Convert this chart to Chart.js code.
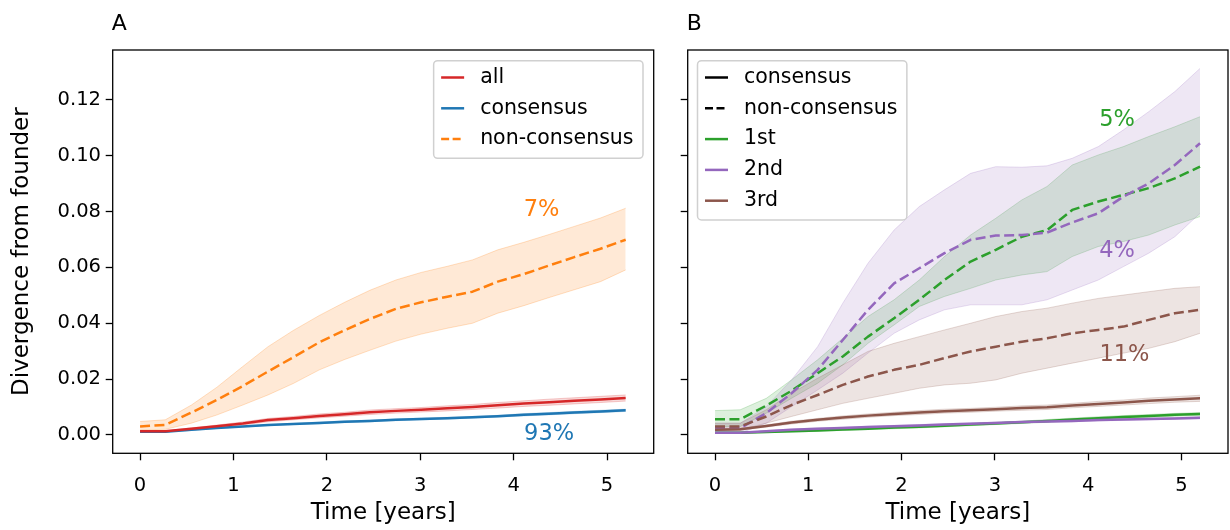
<!DOCTYPE html>
<html><head><meta charset="utf-8">
<script src="https://cdn.jsdelivr.net/npm/chart.js@4.4.1/dist/chart.umd.min.js"></script>
<style>
html,body{margin:0;padding:0;background:#fff;width:1230px;height:530px;overflow:hidden}
canvas{position:absolute;top:0}
#cA{left:0}
#cB{left:665px}
</style></head><body>
<canvas id="cA" width="665" height="530"></canvas>
<canvas id="cB" width="565" height="530"></canvas>
<script>
// ---------- data ----------
const time = [0, 0.27, 0.55, 0.82, 1.10, 1.37, 1.64, 1.92, 2.19, 2.46, 2.74, 3.01, 3.29, 3.56, 3.83, 4.11, 4.38, 4.65, 4.93, 5.20];
const xTicks = [0, 1, 2, 3, 4, 5];
const xTickLabels = ['0', '1', '2', '3', '4', '5'];
const yTicks = [0, 0.02, 0.04, 0.06, 0.08, 0.10, 0.12];
const yTickLabels = ['0.00', '0.02', '0.04', '0.06', '0.08', '0.10', '0.12'];

// Panel A
const allMean  = [0.0013,0.0013,0.0022,0.0031,0.0041,0.0053,0.0060,0.0068,0.0074,0.0081,0.0086,0.0090,0.0095,0.0100,0.0106,0.0112,0.0117,0.0122,0.0127,0.0132];
const allLow   = [0.0011,0.0011,0.0019,0.0027,0.0036,0.0047,0.0054,0.0061,0.0067,0.0073,0.0078,0.0082,0.0086,0.0091,0.0096,0.0102,0.0106,0.0111,0.0116,0.0121];
const allHigh  = [0.0015,0.0015,0.0025,0.0035,0.0046,0.0059,0.0066,0.0075,0.0081,0.0089,0.0094,0.0098,0.0104,0.0109,0.0116,0.0122,0.0128,0.0133,0.0138,0.0143];
const consMean = [0.0011,0.0011,0.0018,0.0025,0.0030,0.0035,0.0039,0.0043,0.0047,0.0050,0.0054,0.0057,0.0060,0.0063,0.0067,0.0072,0.0076,0.0080,0.0084,0.0088];
const consLow  = [0.0010,0.0010,0.0016,0.0023,0.0028,0.0033,0.0037,0.0040,0.0044,0.0047,0.0051,0.0054,0.0057,0.0060,0.0064,0.0068,0.0072,0.0076,0.0080,0.0084];
const consHigh = [0.0012,0.0012,0.0020,0.0027,0.0032,0.0037,0.0041,0.0046,0.0050,0.0053,0.0057,0.0060,0.0063,0.0066,0.0070,0.0076,0.0080,0.0084,0.0088,0.0092];
const nonMean  = [0.0030,0.0036,0.0080,0.0125,0.0175,0.0227,0.0278,0.0332,0.0375,0.0415,0.0452,0.0475,0.0495,0.0513,0.0549,0.0576,0.0607,0.0637,0.0667,0.0699];
const nonHigh  = [0.0048,0.0054,0.0107,0.0170,0.0245,0.0316,0.0374,0.0428,0.0475,0.0518,0.0555,0.0582,0.0604,0.0627,0.0663,0.0690,0.0718,0.0747,0.0777,0.0812];
const nonLow   = [0.0018,0.0020,0.0042,0.0071,0.0107,0.0143,0.0184,0.0233,0.0270,0.0303,0.0336,0.0361,0.0382,0.0400,0.0436,0.0463,0.0492,0.0520,0.0549,0.0591];

// Panel B : consensus (solid)
const g1Cons     = [0.0008,0.0008,0.0010,0.0013,0.0016,0.0019,0.0022,0.0026,0.0029,0.0033,0.0037,0.0041,0.0045,0.0050,0.0055,0.0060,0.0064,0.0068,0.0072,0.0075];
const g1ConsLow  = [0.0006,0.0006,0.0008,0.0010,0.0013,0.0016,0.0019,0.0022,0.0025,0.0029,0.0033,0.0037,0.0041,0.0045,0.0050,0.0055,0.0059,0.0063,0.0067,0.0070];
const g1ConsHigh = [0.0010,0.0010,0.0012,0.0016,0.0019,0.0022,0.0025,0.0030,0.0033,0.0037,0.0041,0.0045,0.0049,0.0055,0.0060,0.0065,0.0069,0.0073,0.0077,0.0080];
const g2Cons     = [0.0008,0.0008,0.0013,0.0018,0.0022,0.0025,0.0028,0.0031,0.0034,0.0037,0.0040,0.0043,0.0046,0.0048,0.0050,0.0053,0.0055,0.0057,0.0059,0.0061];
const g2ConsLow  = [0.0006,0.0006,0.0010,0.0015,0.0019,0.0022,0.0025,0.0028,0.0031,0.0034,0.0037,0.0040,0.0043,0.0045,0.0047,0.0050,0.0052,0.0054,0.0056,0.0057];
const g2ConsHigh = [0.0010,0.0010,0.0016,0.0021,0.0025,0.0028,0.0031,0.0034,0.0037,0.0040,0.0043,0.0046,0.0049,0.0051,0.0053,0.0056,0.0058,0.0060,0.0062,0.0065];
const g3Cons     = [0.0018,0.0020,0.0032,0.0044,0.0054,0.0062,0.0069,0.0075,0.0080,0.0085,0.0088,0.0092,0.0096,0.0099,0.0105,0.0111,0.0116,0.0122,0.0127,0.0131];
const g3ConsLow  = [0.0015,0.0017,0.0028,0.0039,0.0049,0.0056,0.0063,0.0069,0.0073,0.0078,0.0081,0.0085,0.0088,0.0091,0.0097,0.0102,0.0107,0.0112,0.0117,0.0120];
const g3ConsHigh = [0.0021,0.0023,0.0036,0.0049,0.0059,0.0068,0.0075,0.0081,0.0087,0.0092,0.0095,0.0099,0.0104,0.0107,0.0113,0.0120,0.0125,0.0132,0.0137,0.0142];
// Panel B : non-consensus (dashed)
const g1Non     = [0.0056,0.0056,0.0105,0.0158,0.0221,0.0281,0.0352,0.0418,0.0484,0.0555,0.0621,0.0663,0.0710,0.0734,0.0806,0.0836,0.0860,0.0884,0.0919,0.0961];
const g1NonHigh = [0.0087,0.0090,0.0131,0.0197,0.0269,0.0346,0.0424,0.0484,0.0555,0.0639,0.0716,0.0776,0.0842,0.0890,0.0967,0.1003,0.1033,0.1069,0.1104,0.1140];
const g1NonLow  = [0.0030,0.0030,0.0078,0.0131,0.0185,0.0251,0.0328,0.0394,0.0460,0.0496,0.0525,0.0555,0.0573,0.0585,0.0639,0.0675,0.0693,0.0716,0.0752,0.0782];
const g2Non     = [0.0024,0.0024,0.0078,0.0149,0.0233,0.0340,0.0448,0.0543,0.0597,0.0651,0.0699,0.0714,0.0716,0.0725,0.0761,0.0794,0.0854,0.0901,0.0967,0.1045];
const g2NonHigh = [0.0042,0.0042,0.0101,0.0197,0.0316,0.0472,0.0615,0.0734,0.0818,0.0878,0.0937,0.0961,0.0959,0.0964,0.0991,0.1033,0.1093,0.1158,0.1230,0.1313];
const g2NonLow  = [0.0006,0.0006,0.0042,0.0101,0.0161,0.0221,0.0293,0.0364,0.0412,0.0448,0.0466,0.0466,0.0466,0.0484,0.0519,0.0555,0.0603,0.0651,0.0710,0.0794];
const g3Non     = [0.0030,0.0030,0.0066,0.0107,0.0143,0.0179,0.0209,0.0233,0.0251,0.0275,0.0299,0.0316,0.0334,0.0346,0.0364,0.0376,0.0388,0.0412,0.0436,0.0448];
const g3NonHigh = [0.0042,0.0042,0.0090,0.0149,0.0203,0.0251,0.0299,0.0328,0.0352,0.0376,0.0400,0.0424,0.0442,0.0454,0.0472,0.0489,0.0501,0.0513,0.0525,0.0531];
const g3NonLow  = [0.0018,0.0018,0.0042,0.0066,0.0090,0.0113,0.0131,0.0149,0.0167,0.0179,0.0185,0.0197,0.0221,0.0239,0.0257,0.0275,0.0293,0.0310,0.0334,0.0364];

// annotations
const notesA = ['7%', '93%'];
const notesAx = [4.30, 4.38];
const notesAy = [0.0806, 0.0002];
const notesB = ['5%', '4%', '11%'];
const notesBx = [4.31, 4.31, 4.39];
const notesBy = [0.1128, 0.0657, 0.0287];

const legendA = ['all', 'consensus', 'non-consensus'];
const legendB = ['consensus', 'non-consensus', '1st', '2nd', '3rd'];

// ---------- styling ----------
const FONT = "'DejaVu Sans', 'Noto Sans', sans-serif";
const C = {red:'#d62728', blue:'#1f77b4', orange:'#ff7f0e', green:'#2ca02c', purple:'#9467bd', brown:'#8c564b', black:'#000000'};
const DASH = [10, 4.4];
const XMIN = -0.293, XMAX = 5.50, YMIN = -0.0066, YMAX = 0.1379;

function rgba(hex, a){
  const n = parseInt(hex.slice(1), 16);
  return `rgba(${(n>>16)&255},${(n>>8)&255},${n&255},${a})`;
}
function pts(arr){ return time.map((t, i) => ({x: t, y: arr[i]})); }
function lineDs(arr, color, dashed){
  return {data: pts(arr), borderColor: color, borderWidth: 2.5, borderDash: dashed ? DASH : [],
          pointRadius: 0, fill: false, tension: 0, borderCapStyle: 'butt', borderJoinStyle: 'round'};
}
function addBand(list, low, high, color, alpha){
  const lowIdx = list.length;
  list.push({data: pts(low), borderColor: rgba(color, alpha + 0.06), borderWidth: 1, pointRadius: 0, fill: false, tension: 0});
  list.push({data: pts(high), borderColor: rgba(color, alpha + 0.06), borderWidth: 1, pointRadius: 0, tension: 0,
             backgroundColor: rgba(color, alpha), fill: {target: lowIdx, above: rgba(color, alpha), below: rgba(color, alpha)}});
}

const decor = {
  id: 'decor',
  afterDraw(chart, args, o){
    const ctx = chart.ctx, a = chart.chartArea, sx = chart.scales.x, sy = chart.scales.y;
    ctx.save();
    // frame
    ctx.strokeStyle = '#000'; ctx.lineWidth = 1.3;
    ctx.strokeRect(a.left, a.top, a.right - a.left, a.bottom - a.top);
    // panel letter
    ctx.fillStyle = '#000'; ctx.font = `22px ${FONT}`;
    ctx.textAlign = 'left'; ctx.textBaseline = 'alphabetic';
    ctx.fillText(o.letter, a.left - 1, 30);
    // annotations
    ctx.font = `22.5px ${FONT}`; ctx.textAlign = 'center'; ctx.textBaseline = 'middle';
    o.notes.forEach((t, i) => {
      ctx.fillStyle = o.noteColors[i];
      ctx.fillText(t, sx.getPixelForValue(o.noteX[i]), sy.getPixelForValue(o.noteY[i]));
    });
    // legend
    ctx.font = `20.5px ${FONT}`;
    let maxW = 0;
    o.legend.forEach(t => { maxW = Math.max(maxW, ctx.measureText(t).width); });
    const w = 46.5 + maxW + 9.5;
    const rowH = 30.8;
    const h = 17.5 * 2 + rowH * (o.legend.length - 1) + 1;
    const left = o.legendSide === 'right' ? a.right - 10.7 - w : a.left + 9.8;
    const top = a.top + 10.7;
    ctx.beginPath();
    ctx.roundRect(left, top, w, h, 4);
    ctx.fillStyle = 'rgba(255,255,255,0.85)'; ctx.fill();
    ctx.strokeStyle = '#d0d0d0'; ctx.lineWidth = 1.5; ctx.stroke();
    ctx.textAlign = 'left'; ctx.textBaseline = 'middle';
    o.legend.forEach((t, i) => {
      const y = top + 16.8 + i * rowH;
      ctx.beginPath();
      ctx.setLineDash(o.legendDash[i] ? [8, 3.5] : []);
      ctx.strokeStyle = o.legendColors[i]; ctx.lineWidth = 2.5; ctx.lineCap = 'butt';
      ctx.moveTo(left + 7.5, y); ctx.lineTo(left + 30.5, y); ctx.stroke();
      ctx.setLineDash([]);
      ctx.fillStyle = '#000';
      ctx.fillText(t, left + 46.5, y);
    });
    ctx.restore();
  }
};

function makeOptions(isA, padRight, yWidth, decorOpts){
  return {
    responsive: false, animation: false, devicePixelRatio: 1,
    layout: {padding: {left: 0, right: padRight, top: 50, bottom: 0}},
    plugins: {legend: {display: false}, tooltip: {enabled: false}, decor: decorOpts},
    scales: {
      x: {
        type: 'linear', min: XMIN, max: XMAX,
        afterBuildTicks: s => { s.ticks = xTicks.map(v => ({value: v})); },
        afterFit: s => { s.height = 76.7; },
        grid: {drawOnChartArea: false, drawTicks: true, tickLength: 7, tickColor: '#000', tickWidth: 1.3},
        border: {display: false},
        ticks: {color: '#000', font: {family: FONT, size: 19.5}, padding: 14, maxRotation: 0, autoSkip: false,
                callback: (v) => { const i = xTicks.indexOf(v); return i >= 0 ? xTickLabels[i] : ''; }},
        title: {display: true, text: 'Time [years]', color: '#000', font: {family: FONT, size: 23}, padding: {top: 0, bottom: 3}}
      },
      y: {
        type: 'linear', min: YMIN, max: YMAX,
        afterBuildTicks: s => { s.ticks = yTicks.map(v => ({value: v})); },
        afterFit: s => { s.width = yWidth; },
        grid: {drawOnChartArea: false, drawTicks: true, tickLength: 7, tickColor: '#000', tickWidth: 1.3},
        border: {display: false},
        ticks: {color: '#000', font: {family: FONT, size: 19.5}, padding: 4.7, autoSkip: false,
                callback: (v) => { if (!isA) return ''; const i = yTicks.findIndex(t => Math.abs(t - v) < 1e-9); return i >= 0 ? yTickLabels[i] : ''; }},
        title: {display: isA, text: 'Divergence from founder', color: '#000', font: {family: FONT, size: 23}, padding: {top: 8.2, bottom: 0}}
      }
    }
  };
}

// ---------- Panel A ----------
const dsA = [
  lineDs(allMean, C.red, false),
  lineDs(consMean, C.blue, false),
  lineDs(nonMean, C.orange, true)
];
addBand(dsA, allLow, allHigh, C.red, 0.17);
addBand(dsA, consLow, consHigh, C.blue, 0.17);
addBand(dsA, nonLow, nonHigh, C.orange, 0.17);

new Chart(document.getElementById('cA'), {
  type: 'line',
  data: {datasets: dsA},
  options: makeOptions(true, 11.3, 112.7, {
    letter: 'A', notes: notesA, noteX: notesAx, noteY: notesAy, noteColors: [C.orange, C.blue],
    legend: legendA, legendColors: [C.red, C.blue, C.orange], legendDash: [false, false, true], legendSide: 'right'
  }),
  plugins: [decor]
});

// ---------- Panel B ----------
const dsB = [
  lineDs(g3Cons, C.brown, false),
  lineDs(g2Cons, C.purple, false),
  lineDs(g1Cons, C.green, false),
  lineDs(g3Non, C.brown, true),
  lineDs(g2Non, C.purple, true),
  lineDs(g1Non, C.green, true)
];
addBand(dsB, g3ConsLow, g3ConsHigh, C.brown, 0.16);
addBand(dsB, g2ConsLow, g2ConsHigh, C.purple, 0.16);
addBand(dsB, g1ConsLow, g1ConsHigh, C.green, 0.16);
addBand(dsB, g3NonLow, g3NonHigh, C.brown, 0.16);
addBand(dsB, g2NonLow, g2NonHigh, C.purple, 0.16);
addBand(dsB, g1NonLow, g1NonHigh, C.green, 0.16);

new Chart(document.getElementById('cB'), {
  type: 'line',
  data: {datasets: dsB},
  options: makeOptions(false, 2, 22.7, {
    letter: 'B', notes: notesB, noteX: notesBx, noteY: notesBy, noteColors: [C.green, C.purple, C.brown],
    legend: legendB, legendColors: [C.black, C.black, C.green, C.purple, C.brown], legendDash: [false, true, false, false, false], legendSide: 'left'
  }),
  plugins: [decor]
});
</script>
</body></html>
